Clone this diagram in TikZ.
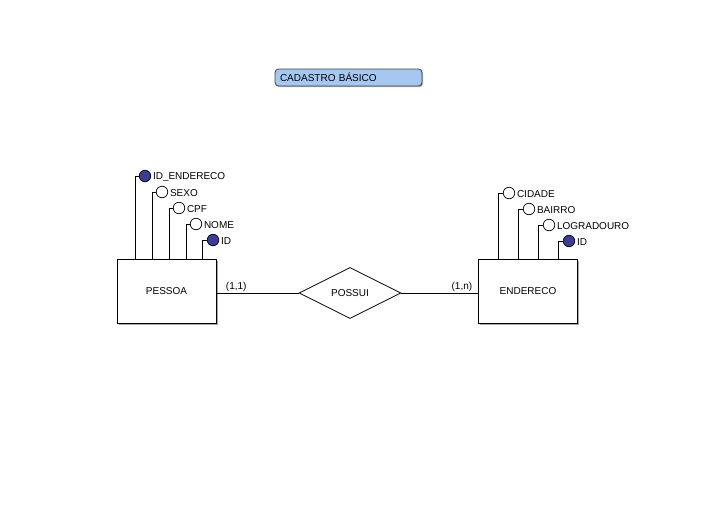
\documentclass[tikz,border=0pt]{standalone}
\usepackage{fontspec}
\setmainfont{Liberation Sans}
\usetikzlibrary{shapes.geometric,shadows}

\definecolor{keyblue}{HTML}{3C3C96}
\definecolor{titleblue}{HTML}{A6C8F0}

\tikzset{
  entity/.style={draw, line width=1pt, fill=white, minimum width=99pt, minimum height=64pt,
    font=\fontsize{10}{12}\selectfont,
    drop shadow={shadow xshift=1.8pt, shadow yshift=-1.8pt, fill=gray!70, opacity=1}},
  relation/.style={draw, diamond, line width=0.8pt, fill=white, minimum width=102pt,
    minimum height=51pt, inner sep=0pt, font=\fontsize{10}{12}\selectfont},
  attr/.style={draw, circle, line width=0.7pt, fill=white, minimum size=11.5pt, inner sep=0pt},
  keyattr/.style={attr, fill=keyblue},
  lbl/.style={font=\fontsize{10}{12}\selectfont, inner sep=0.5pt, label distance=1.2pt, yshift=-0.8pt},
  card/.style={font=\fontsize{10}{12}\selectfont, inner sep=1pt},
  titlebox/.style={draw=black!75, line width=0.8pt, rounded corners=3.5pt, fill=titleblue,
    minimum width=147pt, minimum height=17pt, text width=137pt, align=left,
    font=\fontsize{10}{12}\selectfont,
    drop shadow={shadow xshift=1.2pt, shadow yshift=-1.2pt, fill=gray!60, opacity=1}},
}

\begin{document}
\begin{tikzpicture}[x=1pt,y=-1pt]
  \useasboundingbox (0,0) rectangle (719,517);

  % titulo
  \node[titlebox] (titulo) at (348.5,77.5) {CADASTRO BÁSICO};

  % entidades e relacionamento
  \node[entity] (pessoa) at (166.5,291) {PESSOA};
  \node[entity] (endereco) at (528,291) {ENDERECO};
  \node[relation] (possui) at (350,293) {POSSUI};

  \draw[line width=0.8pt] (pessoa.east |- possui.west) -- (possui.west)
    node[card, pos=0.24, above] (card1) {(1,1)};
  \draw[line width=0.8pt] (possui.east) -- (endereco.west |- possui.east)
    node[card, pos=0.79, above] (card2) {(1,n)};

  % atributos de PESSOA
  \node[keyattr, label={[lbl]right:ID\_ENDERECO}] (idend) at (145,176) {};
  \node[attr, label={[lbl]right:SEXO}] (sexo) at (162,192) {};
  \node[attr, label={[lbl]right:CPF}] (cpf) at (179,208) {};
  \node[attr, label={[lbl]right:NOME}] (nome) at (196,224) {};
  \node[keyattr, label={[lbl]right:ID}] (idp) at (213,240) {};

  \coordinate (idend-b) at (135,259);
  \coordinate (sexo-b) at (152,259);
  \coordinate (cpf-b) at (169,259);
  \coordinate (nome-b) at (186,259);
  \coordinate (idp-b) at (202,259);

  \draw[line width=0.8pt] (idend.west) -| (idend-b);
  \draw[line width=0.8pt] (sexo.west) -| (sexo-b);
  \draw[line width=0.8pt] (cpf.west) -| (cpf-b);
  \draw[line width=0.8pt] (nome.west) -| (nome-b);
  \draw[line width=0.8pt] (idp.west) -| (idp-b);

  % atributos de ENDERECO
  \node[attr, label={[lbl]right:CIDADE}] (cidade) at (509,193) {};
  \node[attr, label={[lbl]right:BAIRRO}] (bairro) at (529,209) {};
  \node[attr, label={[lbl]right:LOGRADOURO}] (lograd) at (549,225) {};
  \node[keyattr, label={[lbl]right:ID}] (ide) at (569,241) {};

  \coordinate (cidade-b) at (498,259);
  \coordinate (bairro-b) at (518,259);
  \coordinate (lograd-b) at (538,259);
  \coordinate (ide-b) at (558,259);

  \draw[line width=0.8pt] (cidade.west) -| (cidade-b);
  \draw[line width=0.8pt] (bairro.west) -| (bairro-b);
  \draw[line width=0.8pt] (lograd.west) -| (lograd-b);
  \draw[line width=0.8pt] (ide.west) -| (ide-b);
\end{tikzpicture}
\end{document}
